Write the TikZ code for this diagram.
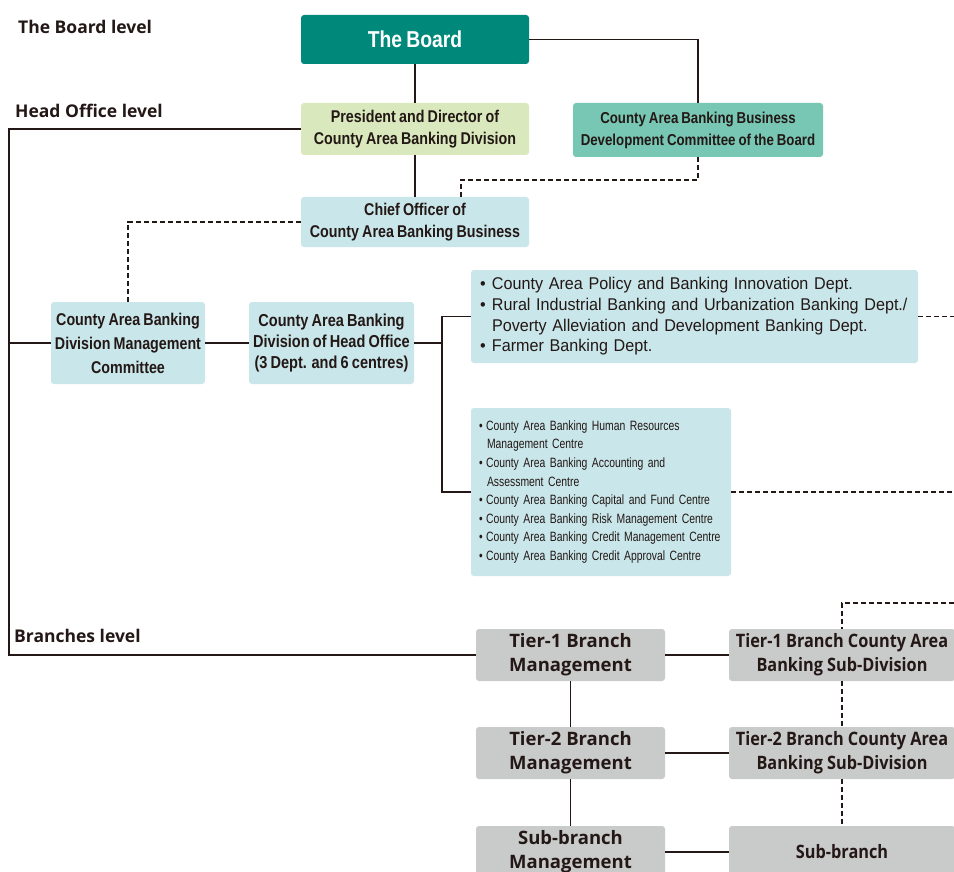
\documentclass[tikz,border=0pt]{standalone}
\usepackage{fontspec}
\setmainfont{Open Sans}
\newfontfamily\condfont[FakeStretch=0.84, WordSpace=0.8]{Liberation Sans}
\newfontfamily\listfont[FakeStretch=0.95, WordSpace=0.7]{Liberation Sans}
\newfontfamily\smallfont[FakeStretch=0.77, WordSpace=0.75]{Liberation Sans}
\newfontfamily\branchfont[FakeStretch=0.88]{Open Sans}
\definecolor{linecol}{HTML}{231815}
\definecolor{boardteal}{HTML}{00897B}
\definecolor{presgreen}{HTML}{D9E9BD}
\definecolor{bizmint}{HTML}{77C7B4}
\definecolor{offblue}{HTML}{C9E6EA}
\definecolor{branchgray}{HTML}{C9CACA}
\tikzset{
  box/.style={rounded corners=3pt, inner sep=0pt, align=center, text=linecol},
  condbold/.style={font=\condfont\bfseries\fontsize{17}{22}\selectfont},
  branchbox/.style={box, fill=branchgray, minimum height=52pt,
    font=\bfseries\fontsize{18.5}{24}\selectfont},
  subbox/.style={branchbox, minimum width=226pt,
    font=\branchfont\bfseries\fontsize{18.5}{24}\selectfont},
  levellabel/.style={anchor=west, inner sep=0pt, text=linecol,
    font=\bfseries\fontsize{17.5}{20}\selectfont},
  link/.style={draw=linecol, line width=1.3pt},
  dashlink/.style={draw=linecol, line width=1.3pt, dash pattern=on 5pt off 3pt}
}
\newcommand{\bul}[1]{\makebox[#1][l]{•}}
\begin{document}
\begin{tikzpicture}[x=1pt,y=-1pt]
	\useasboundingbox (0,0) rectangle (954,872);
	\clip (0,0) rectangle (954,872);
	\fill[white] (0,0) rectangle (954,872);

	% level labels
	\node[levellabel] (lvboard) at (18,27) {The Board level};
	\node[levellabel] (lvhead) at (15,111) {Head Office level};
	\node[levellabel] (lvbranch) at (14,636) {Branches level};

	% board and head office
	\node[box, fill=boardteal, text=white, minimum width=228pt, minimum height=49pt,
		font=\condfont\bfseries\fontsize{23}{24}\selectfont] (board) at (415,39.5) {The Board};
	\node[box, condbold, fill=presgreen, minimum width=228pt, minimum height=52pt] (pres) at (415,129)
		{President and Director of\\County Area Banking Division};
	\node[box, fill=bizmint, minimum width=250pt, minimum height=54pt,
		font=\condfont\bfseries\fontsize{15.8}{22}\selectfont] (bizcom) at (698,130)
		{County Area Banking Business\\Development Committee of the Board};
	\node[box, condbold, fill=offblue, minimum width=228pt, minimum height=50pt] (chief) at (415,222)
		{Chief Officer of\\County Area Banking Business};
	\node[box, fill=offblue, minimum width=154pt, minimum height=82pt,
		font=\condfont\bfseries\fontsize{17}{24}\selectfont] (mgmt) at (128,343)
		{County Area Banking\\Division Management\\Committee};
	\node[box, fill=offblue, minimum width=165pt, minimum height=82pt,
		font=\condfont\bfseries\fontsize{17.3}{21}\selectfont] (hodiv) at (331.5,343)
		{County Area Banking\\Division of Head Office\\(3 Dept. and 6 centres)};
	\node[box, fill=offblue, minimum width=447pt, minimum height=93pt, align=left,
		text width=429pt, inner xsep=9pt,
		font=\listfont\fontsize{17}{20.7}\selectfont] (depts) at (694.5,316.5)
		{\bul{12pt}County Area Policy and Banking Innovation Dept.\\
		 \bul{12pt}Rural Industrial Banking and Urbanization Banking Dept./\\
		 \hspace*{12pt}Poverty Alleviation and Development Banking Dept.\\
		 \bul{12pt}Farmer Banking Dept.};
	\node[box, fill=offblue, minimum width=260pt, minimum height=168pt, align=left,
		text width=248pt, inner xsep=6pt,
		font=\smallfont\fontsize{13.5}{18.6}\selectfont] (centres) at (601,492)
		{\hspace*{2pt}\bul{7pt}County Area Banking Human Resources\\
		 \hspace*{10pt}Management Centre\\
		 \hspace*{2pt}\bul{7pt}County Area Banking Accounting and\\
		 \hspace*{10pt}Assessment Centre\\
		 \hspace*{2pt}\bul{7pt}County Area Banking Capital and Fund Centre\\
		 \hspace*{2pt}\bul{7pt}County Area Banking Risk Management Centre\\
		 \hspace*{2pt}\bul{7pt}County Area Banking Credit Management Centre\\
		 \hspace*{2pt}\bul{7pt}County Area Banking Credit Approval Centre};

	% branches
	\node[branchbox, minimum width=189pt] (tier1) at (570.5,655) {Tier-1 Branch\\Management};
	\node[branchbox, minimum width=189pt] (tier2) at (570.5,753) {Tier-2 Branch\\Management};
	\node[branchbox, minimum width=189pt] (submgmt) at (570.5,852) {Sub-branch\\Management};
	\node[subbox] (sub1) at (842,655) {Tier-1 Branch County Area\\Banking Sub-Division};
	\node[subbox] (sub2) at (842,753) {Tier-2 Branch County Area\\Banking Sub-Division};
	\node[subbox] (subbr) at (842,852) {Sub-branch};

	\coordinate (spine) at (9,129);
	\coordinate (cj) at (461,180);
	\coordinate (fork) at (442,343);
	\coordinate (rim) at (954,603);

	\draw[link] (board.south) -- (pres.north);
	\draw[link] (board.east) -| (bizcom.north);
	\draw[link] (pres.south) -- (chief.north);
	\draw[link] (pres.west) -- (pres.west -| spine) |- (tier1.west);
	\draw[link] (mgmt.west -| spine) -- (mgmt.west);
	\draw[link] (mgmt.east) -- (hodiv.west);
	\draw[link] (hodiv.east) -- (fork);
	\draw[link] (depts.west) -| (fork) |- (centres.west);
	\draw[link] (tier1.south) -- (tier2.north);
	\draw[link] (tier2.south) -- (submgmt.north);
	\draw[link] (tier1.east) -- (sub1.west);
	\draw[link] (tier2.east) -- (sub2.west);
	\draw[link] (submgmt.east) -- (subbr.west);

	\draw[dashlink] (bizcom.south) |- (cj) -- (cj |- chief.north);
	\draw[dashlink] (chief.west) -| (mgmt.north);
	\draw[dashlink] (depts.east) -- (depts.east -| rim);
	\draw[dashlink] (centres.east) -- (centres.east -| rim);
	\draw[dashlink] (rim) -| (sub1.north);
	\draw[dashlink] (sub1.south) -- (sub2.north);
	\draw[dashlink] (sub2.south) -- (subbr.north);
\end{tikzpicture}
\end{document}
